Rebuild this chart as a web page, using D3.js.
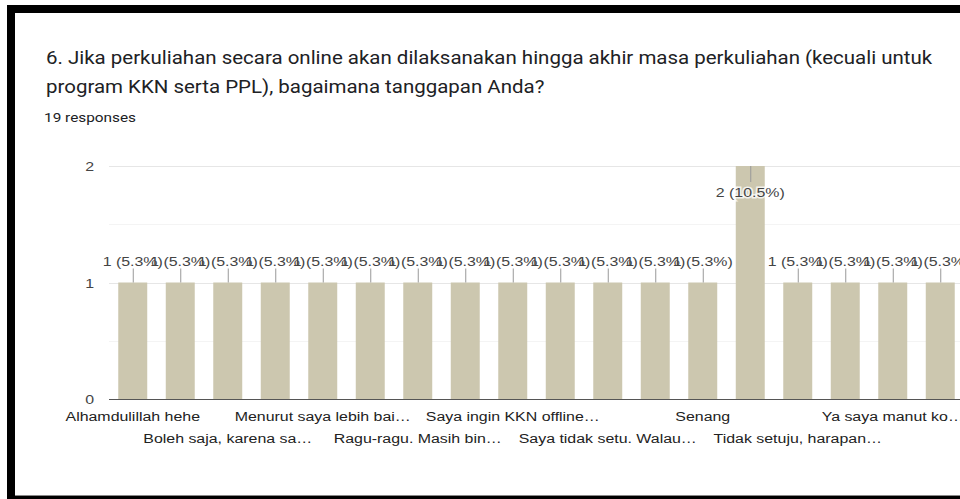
<!DOCTYPE html>
<html>
<head>
<meta charset="utf-8">
<script src="https://cdn.jsdelivr.net/npm/d3@7"></script>
<style>
  html, body { margin: 0; padding: 0; background: #fff; }
  svg { display: block; }
</style>
</head>
<body>
<svg id="chart" width="960" height="499"></svg>
<script>
// ---- data ----
const titleLines = [
  "6. Jika perkuliahan secara online akan dilaksanakan hingga akhir masa perkuliahan (kecuali untuk",
  "program KKN serta PPL), bagaimana tanggapan Anda?"
];
const subtitle = "19 responses";
const categories = [
  "Alhamdulillah hehe",
  "Biasa saja",
  "Boleh saja, karena sa…",
  "Kurang setuju",
  "Menurut saya lebih bai…",
  "Oke",
  "Ragu-ragu. Masih bin…",
  "Sangat setuju",
  "Saya ingin KKN offline…",
  "Saya setuju",
  "Saya tidak setu. Walau…",
  "Sedikit kecewa",
  "Senang",
  "Setuju",
  "Tidak setuju, harapan…",
  "Tidak tahu",
  "Ya saya manut ko…",
  "Yang terbaik saja"
];
const values = [1, 1, 1, 1, 1, 1, 1, 1, 1, 1, 1, 1, 1, 2, 1, 1, 1, 1];
const yTicks = [0, 1, 2];
const gridValues = [0.5, 1, 1.5, 2];

// ---- layout ----
const svg = d3.select("#chart");
const W = 960, H = 499;
const plot = { left: 109, right: 964, top: 166, bottom: 399 };
const sx = 1.18; // horizontal text stretch seen in the picture
const total = d3.sum(values);

// frame
svg.append("rect").attr("x", 0).attr("y", 0).attr("width", W).attr("height", H).attr("fill", "#fff");
svg.append("rect").attr("x", 7).attr("y", 5).attr("width", W - 7).attr("height", 8).attr("fill", "#000");
svg.append("rect").attr("x", 7).attr("y", 5).attr("width", 8).attr("height", H - 5).attr("fill", "#000");
svg.append("rect").attr("x", 7).attr("y", 496).attr("width", W - 7).attr("height", 3).attr("fill", "#000");
svg.append("rect").attr("x", 15).attr("y", 495).attr("width", W - 15).attr("height", 1).attr("fill", "#888");

// title
const titleFont = "Roboto, 'Open Sans', sans-serif";
const t1 = svg.append("text")
  .attr("font-family", titleFont).attr("font-size", 18).attr("fill", "#202124")
  .text(titleLines[0]);
const len1 = t1.node().getComputedTextLength();
const tsx = 887 / len1;
t1.attr("transform", `translate(46,64) scale(${tsx},1)`);
svg.append("text")
  .attr("font-family", titleFont).attr("font-size", 18).attr("fill", "#202124")
  .attr("transform", `translate(46,93) scale(${tsx},1)`)
  .text(titleLines[1]);
svg.append("text")
  .attr("font-family", titleFont).attr("font-size", 13.5).attr("fill", "#202124")
  .attr("transform", `translate(44,122) scale(${tsx},1)`)
  .text(subtitle);

// scales
const x = d3.scaleBand().domain(categories).range([plot.left, plot.right])
  .paddingInner(0.39).paddingOuter(0.195);
const y = d3.scaleLinear().domain([0, 2]).range([plot.bottom, plot.top]);

// gridlines
svg.append("g").selectAll("line").data(gridValues).join("line")
  .attr("x1", plot.left).attr("x2", W)
  .attr("y1", d => Math.round(y(d)) + 0.5).attr("y2", d => Math.round(y(d)) + 0.5)
  .attr("stroke", d => Number.isInteger(d) ? "#e6e6e6" : "#f4f4f4")
  .attr("stroke-width", 1);

// bars
svg.append("g").selectAll("rect").data(values).join("rect")
  .attr("x", (d, i) => x(categories[i]))
  .attr("width", x.bandwidth())
  .attr("y", d => y(d))
  .attr("height", d => y(0) - y(d))
  .attr("fill", "#ccc7af");

// baseline
svg.append("line")
  .attr("x1", plot.left).attr("x2", W)
  .attr("y1", Math.round(y(0)) + 0.5).attr("y2", Math.round(y(0)) + 0.5)
  .attr("stroke", "#555").attr("stroke-width", 1.2);

// y tick labels
const labelFont = "'Liberation Sans', Arial, sans-serif";
svg.append("g").selectAll("text").data(yTicks).join("text")
  .attr("font-family", labelFont).attr("font-size", 13.5).attr("fill", "#444")
  .attr("text-anchor", "end")
  .attr("transform", d => `translate(94,${y(d) + 5}) scale(${sx},1)`)
  .text(d => d);

// annotations
const ann = svg.append("g");
values.forEach((v, i) => {
  const cx = x(categories[i]) + x.bandwidth() / 2;
  const pct = (v / total * 100).toFixed(1);
  const label = `${v} (${pct}%)`;
  const inside = v === d3.max(values);
  if (inside) {
    ann.append("line")
      .attr("x1", cx + 0.5).attr("x2", cx + 0.5)
      .attr("y1", y(v)).attr("y2", y(v) + 16)
      .attr("stroke", "#999").attr("stroke-width", 1);
    ann.append("text")
      .attr("font-family", labelFont).attr("font-size", 13.5).attr("fill", "#444")
      .attr("text-anchor", "middle")
      .attr("stroke", "#fff").attr("stroke-width", 3).attr("stroke-opacity", 0.75)
      .attr("paint-order", "stroke")
      .attr("transform", `translate(${cx},${y(v) + 31}) scale(${sx},1)`)
      .text(label);
  } else {
    ann.append("line")
      .attr("x1", cx + 0.5).attr("x2", cx + 0.5)
      .attr("y1", y(v) - 14).attr("y2", y(v))
      .attr("stroke", "#999").attr("stroke-width", 1);
    ann.append("text")
      .attr("font-family", labelFont).attr("font-size", 13.5).attr("fill", "#444")
      .attr("text-anchor", "middle")
      .attr("transform", `translate(${cx},${y(v) - 17}) scale(${sx},1)`)
      .text(label);
  }
});

// x category labels (every other, staggered in two rows)
svg.append("g").selectAll("text")
  .data(categories.filter((c, i) => i % 2 === 0))
  .join("text")
  .attr("font-family", labelFont).attr("font-size", 13.5).attr("fill", "#222")
  .attr("text-anchor", "middle")
  .attr("transform", (d, k) => {
    const cx = x(d) + x.bandwidth() / 2;
    const yy = k % 2 === 0 ? 421 : 443;
    return `translate(${cx},${yy}) scale(${sx},1)`;
  })
  .text(d => d);
</script>
</body>
</html>
